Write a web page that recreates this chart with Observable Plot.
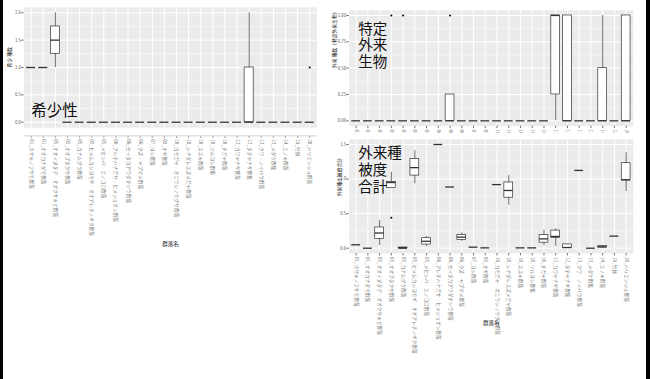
<!DOCTYPE html>
<html><head><meta charset="utf-8">
<script src="https://cdn.jsdelivr.net/npm/d3@7"></script>
<script src="https://cdn.jsdelivr.net/npm/@observablehq/plot@0.6"></script>
<style>
html,body{margin:0;padding:0;background:#fff;}
#wrap{position:relative;width:650px;height:379px;overflow:hidden;background:#fff;}
#wrap svg{position:absolute;max-width:none !important;}
.bar{position:absolute;top:0;height:379px;background:#000;z-index:5;}
</style></head><body>
<div id="wrap"></div>
<script>
const FONT = "'Noto Sans CJK JP','Noto Sans',sans-serif";

const categories = [
  "01_ホザキノフサモ群落","01_オオカナダモ群落","05_オオイヌタデ‐オオクサキビ群落","05_オオブタクサ群落",
  "05_カナムグラ群落","05_ヒメムカシヨモギ‐オオアレチノギク群落","05_メヒシバ‐エノコロ群落","06_アレチハナガサ‐ヒメジョオン群落",
  "06_セイタカアワダチソウ群落","06_クズ‐ヤブマメ群落","07_ヨシ群落","09_オギ群落",
  "10_カモガヤ‐オニウシノケグサ群落","10_シナダレスズメガヤ群落","10_ススキ群落","10_ツルヨシ群集",
  "10_チガヤ群落","12_カワヤナギ群落","12_タチヤナギ群集","13_クワ‐ノイバラ群落",
  "13_メダケ群集","14_エノキ群落","18_竹林","20_ハリエンジュ群落"
];

// 希少性 (希少 種数)
const rareMin = [1,1,1,   0,0,0,0,0,0,0,0,0,0,0,0,0,0,0,0,0,0,0,0,0];
const rareQ1  = [1,1,1.25,0,0,0,0,0,0,0,0,0,0,0,0,0,0,0,0,0,0,0,0,0];
const rareMed = [1,1,1.5, 0,0,0,0,0,0,0,0,0,0,0,0,0,0,0,0,0,0,0,0,0];
const rareQ3  = [1,1,1.75,0,0,0,0,0,0,0,0,0,0,0,0,0,0,0,1,0,0,0,0,0];
const rareMax = [1,1,2,   0,0,0,0,0,0,0,0,0,0,0,0,0,0,0,2,0,0,0,0,0];
const rareOutIdx = [23];
const rareOutVal = [1];

// 特定外来生物 (外来 種数)
const alienMin = [0,0,0,0,0,0,0,0,0,   0,0,0,0,0,0,0,0,0,   0,0,0,0,  0,0];
const alienQ1  = [0,0,0,0,0,0,0,0,0,   0,0,0,0,0,0,0,0,0.25,0,0,0,0,  0,0];
const alienMed = [0,0,0,0,0,0,0,0,0,   0,0,0,0,0,0,0,0,1,   0,0,0,0,  0,0];
const alienQ3  = [0,0,0,0,0,0,0,0,0.25,0,0,0,0,0,0,0,0,1,   1,0,0,0.5,0,1];
const alienMax = [0,0,0,0,0,0,0,0,0.25,0,0,0,0,0,0,0,0,1,   1,0,0,1,  0,1];
const alienOutIdx = [3,4,8];
const alienOutVal = [1,1,1];

// 外来種被度合計
const coverMin = [0.05,0,0.04,0.87,0,   0.93,0.02, 1.5,0.885,0.10,0.015,0.005,0.92,0.62, 0.005,0.005,0.04, 0.025,0,    1.125,0,0,   0.175,0.82];
const coverQ1  = [0.05,0,0.135,0.87,0,  1.05,0.053,1.5,0.885,0.12,0.015,0.005,0.92,0.73, 0.005,0.005,0.08, 0.15, 0.005,1.125,0,0.01,0.175,0.98];
const coverMed = [0.05,0,0.22,0.95,0,   1.165,0.10,1.5,0.885,0.16,0.015,0.005,0.92,0.835,0.005,0.005,0.135,0.17, 0.01, 1.125,0,0.02,0.175,0.99];
const coverQ3  = [0.05,0,0.30,0.96,0.01,1.29,0.145,1.5,0.885,0.19,0.015,0.005,0.92,0.95, 0.005,0.005,0.19, 0.255,0.055,1.125,0,0.03,0.175,1.23];
const coverMax = [0.05,0,0.40,1.10,0.01,1.41,0.17, 1.5,0.885,0.22,0.015,0.005,0.92,1.05, 0.005,0.005,0.26, 0.28, 0.06, 1.125,0,0.04,0.175,1.38];
const coverOutIdx = [3];
const coverOutVal = [0.44];

function rows(mn,q1,md,q3,mx){
  return categories.map((cat,i)=>({cat,min:mn[i],q1:q1[i],med:md[i],q3:q3[i],max:mx[i]}));
}

function panel(o){
  const data = rows(...o.stats);
  const outs = o.outIdx.map((k,i)=>({cat:categories[k], value:o.outVal[i]}));
  const marks = [
    Plot.frame({fill:"#EBEBEB", stroke:null}),
    Plot.ruleY(o.yMinor, {stroke:"white", strokeWidth:0.5}),
    Plot.ruleY(o.yTicks, {stroke:"white", strokeWidth:1}),
    Plot.ruleX(categories, {x:d=>d, stroke:"white", strokeWidth:1}),
    Plot.axisY({ticks:o.yTicks, tickFormat:o.fmt, tickSize:2, tickPadding:1, fontSize:4.3, color:"#555", label:null}),
    Plot.axisX({tickSize:2.5, tickPadding:1, tickRotate:90, textAnchor:"start", lineAnchor:"middle", fontSize:4.7, color:"#777", label:null, dy:o.xdy}),
    Plot.ruleX(data, {x:"cat", y1:"min", y2:"max", stroke:"#333", strokeWidth:0.7}),
    Plot.barY(data, {x:"cat", y1:"q1", y2:"q3", fill:"white", stroke:"#333", strokeWidth:0.7}),
    Plot.tickY(data, {x:"cat", y:"med", stroke:"#333", strokeWidth:1.3}),
    Plot.dot(outs, {x:"cat", y:"value", r:1, fill:"black", stroke:null}),
    Plot.text([o.ylabel], {text:d=>d, frameAnchor:"left", dx:o.ylx, rotate:-90, fontSize:4.8, fill:"#111"}),
    Plot.text([o.note], {x:()=>categories[0], y:()=>o.noteY, text:d=>d, textAnchor:"start", lineAnchor:"middle", fontSize:o.noteSize, lineHeight:o.noteLH, dx:o.notedx, fill:"#111"})
  ];
  if (o.xtitle) marks.push(Plot.text([o.xtitle], {text:d=>d, frameAnchor:"bottom", lineAnchor:"middle", dy:o.tdy, fontSize:5.5, fill:"#111"}));
  if (o.axisLine) marks.push(Plot.ruleY([o.yDomain[0]], {dy:o.xdy, stroke:"#E0E0E0", strokeWidth:1.5}));
  const svg = Plot.plot({
    width:o.width, height:o.height,
    marginTop:o.mt, marginBottom:o.mb, marginLeft:o.ml, marginRight:o.mr,
    style:{fontFamily:FONT, background:o.bg, overflow:"visible"},
    x:{type:"band", domain:categories, paddingInner:0.25, paddingOuter:0.225, round:false, axis:null},
    y:{domain:o.yDomain, axis:null},
    marks
  });
  svg.style.left = o.left + "px";
  svg.style.top = o.top + "px";
  svg.style.width = o.width + "px";
  svg.style.height = o.height + "px";
  return svg;
}

const wrap = document.getElementById("wrap");

wrap.appendChild(panel({
  stats:[rareMin,rareQ1,rareMed,rareQ3,rareMax], outIdx:rareOutIdx, outVal:rareOutVal,
  yDomain:[-0.1,2.1], yTicks:[0,0.5,1,1.5,2], yMinor:[0.25,0.75,1.25,1.75], fmt:d3.format(".1f"),
  left:0, top:0, width:325, height:252, ml:23.4, mr:8.5, mt:6.8, mb:124.8,
  bg:"transparent", xdy:8, axisLine:true,
  ylabel:"希少 種数", ylx:-14,
  note:"希少性", noteY:0.21, noteSize:15.5, noteLH:1.1, notedx:0,
  xtitle:"群落名", tdy:117
}));

wrap.appendChild(panel({
  stats:[alienMin,alienQ1,alienMed,alienQ3,alienMax], outIdx:alienOutIdx, outVal:alienOutVal,
  yDomain:[-0.05,1.05], yTicks:[0,0.25,0.5,0.75,1], yMinor:[0.125,0.375,0.625,0.875], fmt:d3.format(".2f"),
  left:325, top:0, width:325, height:250, ml:23.6, mr:17.3, mt:9.7, mb:124.4,
  bg:"transparent", xdy:0, axisLine:false,
  ylabel:"外来 種数（特定外来生物）", ylx:-15,
  note:"特定\n外来\n生物", noteY:0.72, noteSize:14.5, noteLH:1.14, notedx:2
}));

wrap.appendChild(panel({
  stats:[coverMin,coverQ1,coverMed,coverQ3,coverMax], outIdx:coverOutIdx, outVal:coverOutVal,
  yDomain:[-0.075,1.575], yTicks:[0,0.5,1,1.5], yMinor:[0.25,0.75,1.25], fmt:d3.format(".1f"),
  left:325, top:133, width:325, height:246, ml:23.6, mr:17.3, mt:5.8, mb:126.1,
  bg:"white", xdy:0, axisLine:false,
  ylabel:"外来種の被度合計", ylx:-10,
  note:"外来種\n被度\n合計", noteY:1.14, noteSize:14.5, noteLH:1.2, notedx:2,
  xtitle:"群落名", tdy:70
}));

const lb = document.createElement("div"); lb.className="bar"; lb.style.left="0px"; lb.style.width="3px"; wrap.appendChild(lb);
const rb = document.createElement("div"); rb.className="bar"; rb.style.left="646px"; rb.style.width="4px"; wrap.appendChild(rb);
</script>
</body></html>
